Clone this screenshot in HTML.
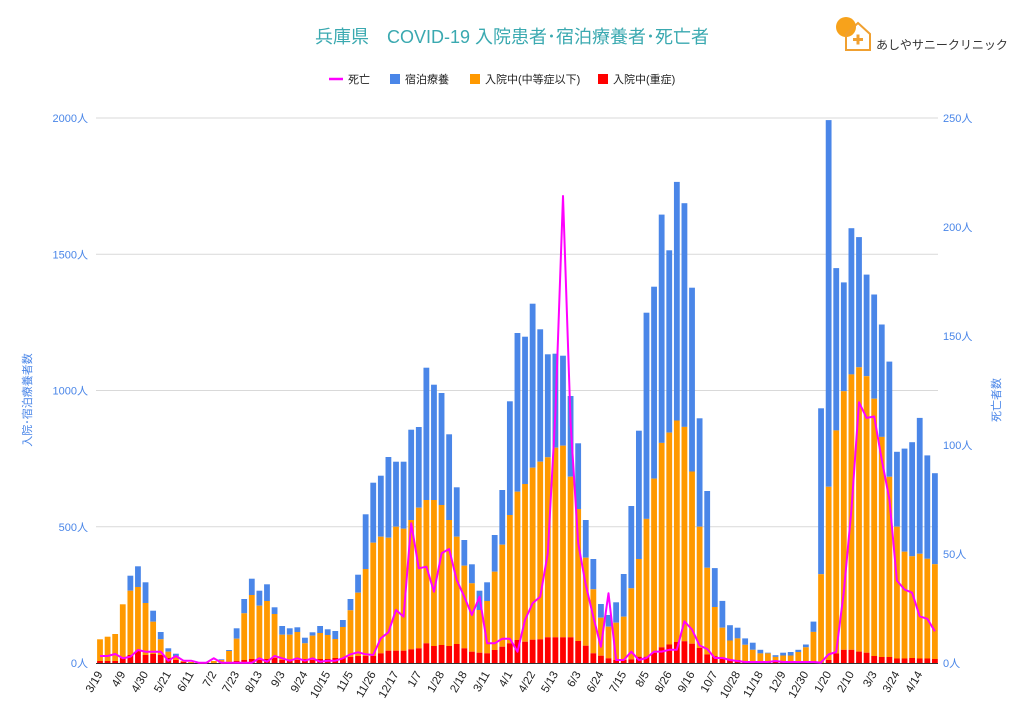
<!DOCTYPE html>
<html><head><meta charset="utf-8">
<style>
html,body{margin:0;padding:0;background:#fff;}
svg{display:block;font-family:"Liberation Sans","Noto Sans CJK JP",sans-serif;}
</style></head>
<body>
<svg id="c" width="1024" height="723" viewBox="0 0 1024 723" xmlns="http://www.w3.org/2000/svg">
<rect width="1024" height="723" fill="#fff"/>
<text x="512" y="43" text-anchor="middle" font-size="18" fill="#3aa9b0">兵庫県　COVID-19 入院患者･宿泊療養者･死亡者</text>
<g>
<circle cx="846" cy="27" r="10" fill="#f7a21b"/>
<path d="M846 34 L858 23 L870 34 L870 50 L846 50 Z" fill="none" stroke="#f0a030" stroke-width="2"/>
<rect x="853" y="38" width="10" height="3" fill="#f0a030"/><rect x="856.5" y="34.5" width="3" height="10" fill="#f0a030"/>
<text x="876" y="49" font-size="12" fill="#333">あしやサニークリニック</text>
</g>
<g font-size="11" fill="#222">
<line x1="329" y1="79" x2="343" y2="79" stroke="#ff00ff" stroke-width="2.5"/>
<text x="348" y="83">死亡</text>
<rect x="390" y="74" width="10" height="10" fill="#4a86e8"/>
<text x="405" y="83">宿泊療養</text>
<rect x="470" y="74" width="10" height="10" fill="#ff9900"/>
<text x="485" y="83">入院中(中等症以下)</text>
<rect x="598" y="74" width="10" height="10" fill="#ff0000"/>
<text x="613" y="83">入院中(重症)</text>
</g>
<g id="grid"></g>
<g id="bars"></g>
<g id="line"></g>
<g id="labels" font-size="11" fill="#4a86e8"></g>
<g id="xl" font-size="11.5" fill="#222"></g>
<text transform="translate(31,400) rotate(-90)" text-anchor="middle" font-size="11" fill="#4a86e8">入院･宿泊療養者数</text>
<text transform="translate(1000,400) rotate(-90)" text-anchor="middle" font-size="11" fill="#4a86e8">死亡者数</text>
</svg>
<script>
var T=[639.3,636.7,634,604.3,575.7,566.3,582.3,610.7,632,648.3,653.7,661,662,663,662,661,659.3,650,628.3,599,578.7,590.7,584.3,607.3,626,628.3,627.3,637.7,632.3,626,629.3,631,620,599,574.7,514.3,
482.7,475.7,457,461.7,461.7,429.7,427,367.7,384.7,393,434.3,487.3,540,564.3,590.7,582.3,535,490,401.3,333,336.7,303.7,329.3,354.3,353.7,355.7,396,443.3,520,559,604,615,602.3,574,506,430.7,
312.7,286.7,214.6,250.3,181.9,203.2,287.7,418.3,491,568.1,600.9,625.2,627.7,638.4,642.7,649.8,652.7,655.2,652.7,652,649.8,644.5,621.6,408.3,120.1,268.1,282.4,228.2,237.1,274.6,294.5,324.5,361.6,451.8,448.6,442.2,417.9,455.4,473.2];
var O=[639.3,636.7,634,604.3,590.7,587,603,621.7,639.3,651.7,656,661,662,663,662,661,660,651,638.7,613.3,595,605.7,601,614,634.7,634.7,632,643.3,635.7,633,635,639,627,610.3,592.7,569,
542.7,536.7,537.7,526.7,528.7,520,507.7,500,500,505,520,536.7,565.7,583.3,610,601,571.7,544.7,515,491.7,484,467.7,461.7,457.3,447.7,445.7,476.7,509,557.7,589.3,617.7,626.7,622.7,616.7,588.3,559,
518.9,478.6,442.9,432.6,420.5,426.9,471.5,526.7,567.8,607,627.7,640.5,638.4,644.8,649.8,653.4,653.4,656.9,655.5,655.5,652,647.3,631.9,574.2,486.8,430.4,391.2,374.4,367.3,376.2,398.7,436.9,476.8,526.7,551.7,556.3,553.8,558.8,564.2];
var R=[661,661,661,658,655,651,655,654,655,658,660,662,663,663,663,663,663,662,661,660,659,660,659,658,660,661,660,659,660,659,659,658,658,657,656,656,
656,653.3,650.7,650.7,650.7,649.3,648.3,643.3,646,645,646,644,648.3,651.7,652.7,653.3,650,646.7,643.3,640,641.7,639.7,639.3,637.3,637.3,637.3,637.3,641,645.7,653.3,655.7,658.3,660,660,659.3,656.7,
656.7,652.7,647.3,644.5,642,641.2,643.7,648,654.4,656.2,658.5,659.2,660,661,661,662,662,662,662,662,662,662,661,663,660,653.4,649.8,649.8,651.6,652.7,656,657,657,658.5,658.5,658,658.5,658.5,659];
var D=[656,656,654,658.3,656.7,650,651.7,651.7,651.7,660.7,656,660.7,660.7,662.7,662.7,658.3,662.7,662.7,662.7,662.7,662.7,658.3,661.7,656,658.3,660.7,658.3,660.7,658.3,661.7,660.7,660.7,658.3,654.3,652.3,654.3,
655,638.3,632.3,610,616.7,523.3,568.3,566.7,591.7,553.3,549,580,596.7,615,596.7,643.3,643.3,638.7,638.7,651.7,620,603.3,596.7,553.3,413,196,423,543.3,585,616.7,646.7,593.3,660,660,651.7,660,
658,651.6,651.6,649.8,649.8,621.3,629.5,645.5,649,658,658,660,661,662,662,662,662,661,662,662,662,662,662,662.6,654.4,652,592,510,402.3,417.9,416.5,460,499.3,580.6,589.5,592.7,616.3,618.8,631.3];
var NS="http://www.w3.org/2000/svg";
function el(p,n,a,t){var e=document.createElementNS(NS,n);for(var k in a)e.setAttribute(k,a[k]);if(t!==undefined)e.textContent=t;p.appendChild(e);return e;}
var g=document.getElementById('grid'),b=document.getElementById('bars'),ln=document.getElementById('line'),lb=document.getElementById('labels'),xl=document.getElementById('xl');
var ys=[118,254.25,390.5,526.75];
for(var i=0;i<4;i++){el(g,'line',{x1:96,x2:938,y1:ys[i],y2:ys[i],stroke:'#d9d9d9','stroke-width':1});}
var yy=[118,254.25,390.5,526.75,663];
var LL=['2000人','1500人','1000人','500人','0人'];
for(var i=0;i<5;i++){el(lb,'text',{x:88,y:yy[i]+4,'text-anchor':'end'},LL[i]);}
var RR=['250人','200人','150人','100人','50人','0人'];
var ry=[118,227,336,445,554,663];
for(var i=0;i<6;i++){el(lb,'text',{x:943,y:ry[i]+4},RR[i]);}
var w=5.8;
for(var i=0;i<T.length;i++){
 var x=100+7.59*i-w/2;
 if(T[i]<O[i]) el(b,'rect',{x:x,y:T[i],width:w,height:O[i]-T[i],fill:'#4a86e8'});
 if(O[i]<R[i]) el(b,'rect',{x:x,y:O[i],width:w,height:R[i]-O[i],fill:'#ff9900'});
 if(R[i]<663) el(b,'rect',{x:x,y:R[i],width:w,height:663-R[i],fill:'#ff0000'});
}
el(g,'line',{x1:96,x2:938,y1:663.5,y2:663.5,stroke:'#333','stroke-width':1});
var pts=D.map(function(v,i){return (100+7.59*i).toFixed(1)+','+v;}).join(' ');
el(ln,'polyline',{points:pts,fill:'none',stroke:'#ff00ff','stroke-width':2,'stroke-linejoin':'round'});
var xs=['3/19','4/9','4/30','5/21','6/11','7/2','7/23','8/13','9/3','9/24','10/15','11/5','11/26','12/17','1/7','1/28','2/18','3/11','4/1','4/22','5/13','6/3','6/24','7/15','8/5','8/26','9/16','10/7','10/28','11/18','12/9','12/30','1/20','2/10','3/3','3/24','4/14'];
for(var i=0;i<xs.length;i++){var x=103+7.59*3*i;el(xl,'text',{transform:'translate('+x+',674) rotate(-60)','text-anchor':'end'},xs[i]);}
</script>
</body></html>
